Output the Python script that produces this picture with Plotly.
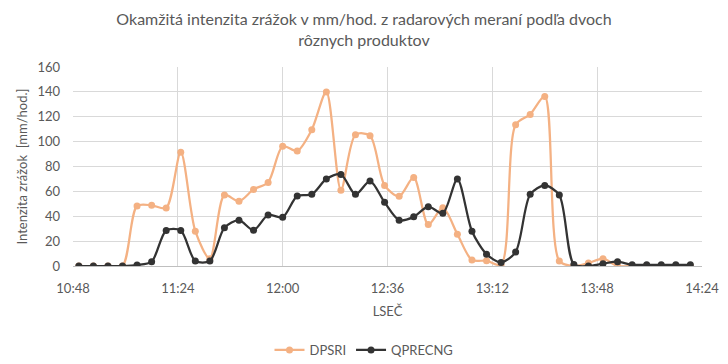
import plotly.graph_objects as go

times = ["10:50","10:55","11:00","11:05","11:10","11:15","11:20","11:25","11:30","11:35",
         "11:40","11:45","11:50","11:55","12:00","12:05","12:10","12:15","12:20","12:25",
         "12:30","12:35","12:40","12:45","12:50","12:55","13:00","13:05","13:10","13:15",
         "13:20","13:25","13:30","13:35","13:40","13:45","13:50","13:55","14:00","14:05",
         "14:10","14:15","14:20"]
dpsri = [0,0,0,0,48.3,48.8,46.7,91.5,28,5.9,
         57,52,61.6,67.2,96.3,92.5,109.6,140,61,105.6,
         104.8,64.8,56,71.2,33.3,46.9,25.6,4.8,4.3,1,
         113.6,121.9,136.3,4,0,2.4,5.9,0,0,0,
         0,0,0]
qprecng = [0,0,0,0,0.8,3.5,28.5,28.5,4,4,
           30.7,36.8,28.8,41,39.2,56.3,57.6,69.9,73.6,57.6,
           68.3,51.2,36.8,39.5,47.7,42.4,69.9,28,9.5,2.9,
           11.2,57.6,64.8,57,1.3,0,1.9,3.5,1,1,
           1,1,1]

day = "2020-01-01 "
x = [day + t for t in times]

font_fam = "Lato, Open Sans, sans-serif"
txt = "#595959"

fig = go.Figure()
fig.add_trace(go.Scatter(x=x, y=dpsri, name="DPSRI", mode="lines+markers",
                         line=dict(color="#F4B183", width=2.25, shape="spline", smoothing=0.8),
                         marker=dict(color="#F4B183", size=7)))
fig.add_trace(go.Scatter(x=x, y=qprecng, name="QPRECNG", mode="lines+markers",
                         line=dict(color="#333333", width=2.25, shape="spline", smoothing=0.8),
                         marker=dict(color="#333333", size=7)))

fig.update_layout(
    width=728, height=364,
    margin=dict(l=73, r=26, t=67, b=98),
    paper_bgcolor="white", plot_bgcolor="white",
    font=dict(family=font_fam, color=txt, size=13),
    title=dict(text="Okamžitá intenzita zrážok v mm/hod. z radarových meraní podľa dvoch<br>rôznych produktov",
               x=0.5, xanchor="center", y=0.93, yanchor="middle", automargin=False,
               font=dict(size=16, color=txt, family=font_fam)),
    showlegend=True,
    legend=dict(orientation="h", x=0.5, xanchor="center", xref="container",
                y=0.0385, yanchor="middle", yref="container",
                font=dict(size=13, color=txt)),
    xaxis=dict(type="date", range=[day + "10:48", day + "14:24"],
               tick0=day + "10:48", dtick=36*60*1000, tickformat="%H:%M",
               showgrid=True, gridcolor="#d9d9d9", gridwidth=1,
               showline=True, linecolor="#bfbfbf", linewidth=1, mirror=False,
               ticks="", zeroline=False, automargin=False, ticklabelstandoff=10,
               title=dict(text="LSEČ", standoff=12, font=dict(size=13, color=txt))),
    yaxis=dict(range=[0, 160], dtick=20, showgrid=True, gridcolor="#d9d9d9", gridwidth=1,
               zeroline=False, ticks="", showline=False, automargin=False, ticklabelstandoff=12,
               title=dict(text="Intenzita zrážok  [mm/hod.]", standoff=6, font=dict(size=13, color=txt))),
)
fig.write_html("out.html", config={"displayModeBar": False},
               post_script="document.body.style.margin='0';document.body.style.padding='0';")
